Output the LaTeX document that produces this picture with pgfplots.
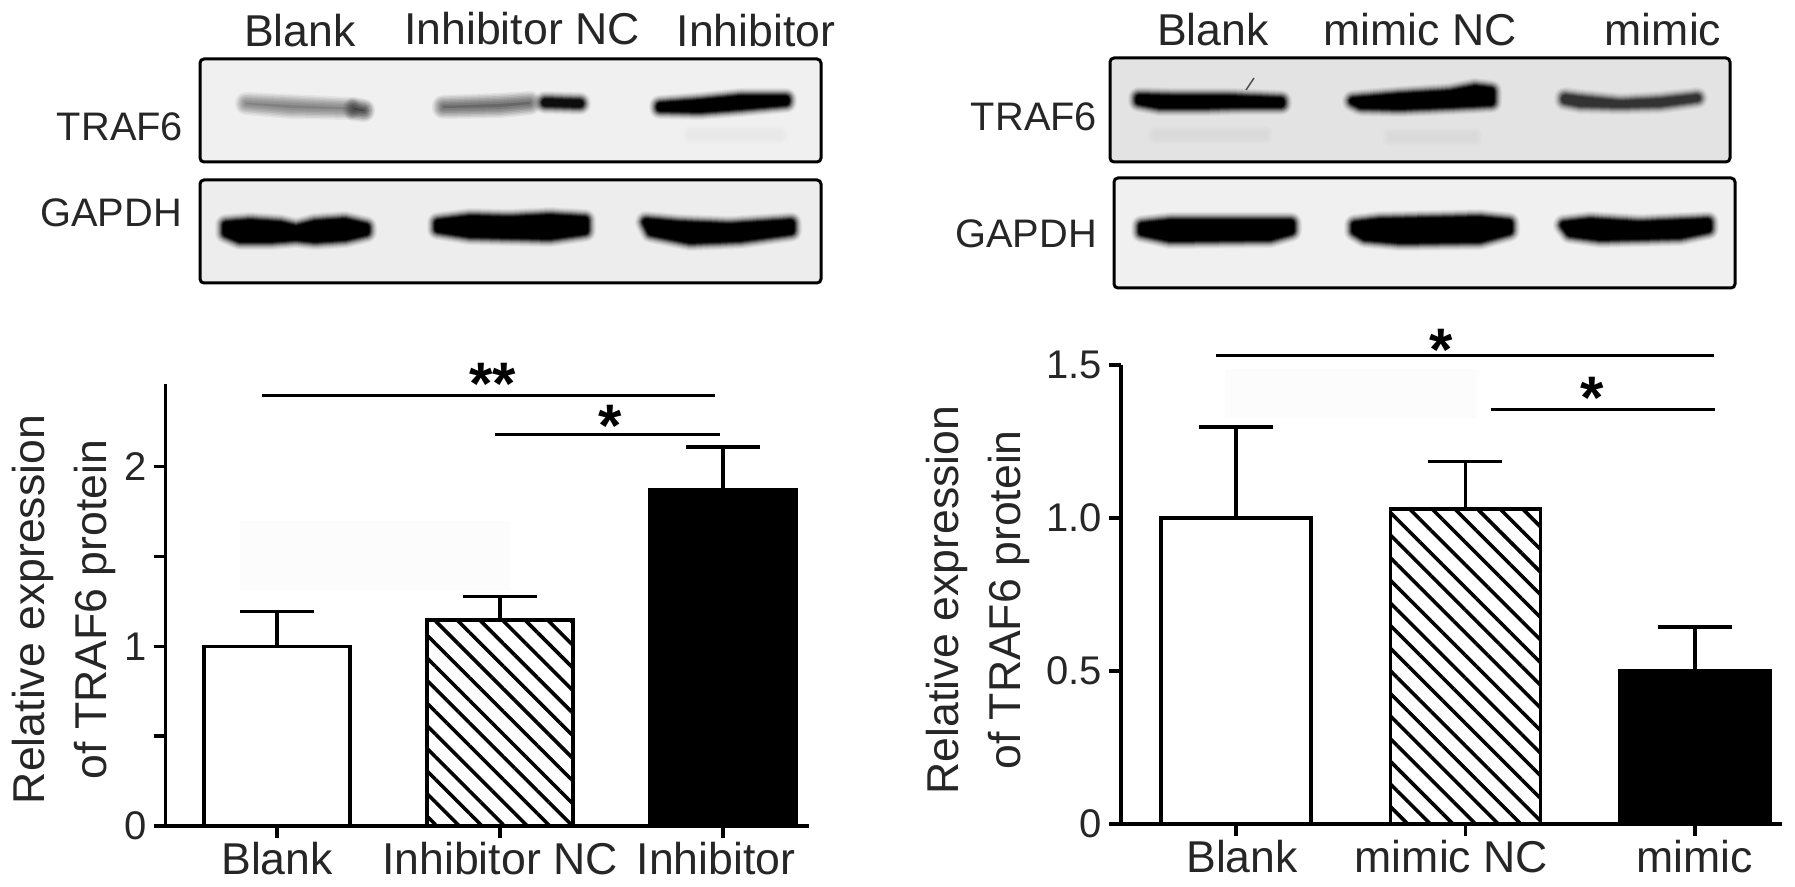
\documentclass[border=0pt]{standalone}
\usepackage{fontspec}
\setmainfont{Liberation Sans}
\usepackage{pgfplots}
\pgfplotsset{compat=1.18}
\usetikzlibrary{patterns.meta}

% picture is 1795x887 px at 0.5pt per px
\newcommand{\lab}{\fontsize{22.3pt}{31pt}\selectfont}
\newcommand{\blotlab}{\fontsize{19.9pt}{24pt}\selectfont}
\newcommand{\ticklab}{\fontsize{20pt}{24pt}\selectfont}
\newcommand{\stars}{\fontsize{30pt}{30pt}\selectfont\bfseries}
\colorlet{txt}{black!85}

% soft-edged blot band: a few see-through strokes, then the solid core
\newcommand{\bandlayer}[4]{%
  \addplot[draw=#1, fill=#1, line width=#2pt, draw opacity=#3, fill opacity=#3, line join=round] coordinates {#4} -- cycle;
}
\newcommand{\band}[2]{%
  \bandlayer{#1}{11}{.05}{#2}
  \bandlayer{#1}{10}{.07}{#2}
  \bandlayer{#1}{9}{.09}{#2}
  \bandlayer{#1}{8}{.13}{#2}
  \bandlayer{#1}{7}{.18}{#2}
  \bandlayer{#1}{6}{.26}{#2}
  \bandlayer{#1}{5}{.4}{#2}
  \bandlayer{#1}{4}{.6}{#2}
  \bandlayer{#1}{3}{1}{#2}
}
% faint band, no solid core
\newcommand{\softband}[2]{%
  \bandlayer{#1}{11}{.10}{#2}
  \bandlayer{#1}{9.5}{.14}{#2}
  \bandlayer{#1}{8}{.18}{#2}
  \bandlayer{#1}{6.5}{.22}{#2}
  \bandlayer{#1}{5}{.26}{#2}
  \bandlayer{#1}{3.5}{.30}{#2}
  \bandlayer{#1}{2}{.35}{#2}
}
\newcommand{\smear}[2]{%
  \bandlayer{#1}{7}{.25}{#2}
  \bandlayer{#1}{5}{.3}{#2}
  \bandlayer{#1}{3}{.35}{#2}
  \bandlayer{#1}{1}{.4}{#2}
}
\newcommand{\panel}[2]{%
  \addplot[draw=none, fill=#1] coordinates {#2} -- cycle;
}
\newcommand{\frameline}[1]{%
  \addplot[draw=black, line width=1.5pt, rounded corners=2pt] coordinates {#1} -- cycle;
}

\pgfplotsset{
  barchart/.style={
    scale only axis,
    anchor=south west,
    axis lines=left,
    axis line style={-, line width=1.8pt},
    tick style={black, line width=1.8pt},
    tick align=outside,
    major tick length=6pt,
    minor tick length=6pt,
    ymin=0,
    xtick={0,1,2},
    ybar, bar width=73pt, bar shift=0pt,
    x tick label style={font=\lab, text=txt, yshift=1.5pt},
    y tick label style={font=\ticklab, text=txt},
    /pgf/number format/assume math mode=true,
    ylabel={Relative expression\\of TRAF6 protein},
    ylabel style={align=center, font=\lab, text=txt, anchor=center},
    axis on top,
    clip=false,
  },
  errs/.style={
    error bars/.cd, y dir=plus, y explicit,
    error bar style={black, line width=1.8pt},
    error mark options={rotate=90, black, mark size=18.5pt, line width=1.8pt}},
  blankbar/.style={draw=black, fill=white, line width=1.8pt, errs},
  hatchbar/.style={draw=black, line width=1.8pt,
    pattern={Lines[angle=-45,distance=8pt,line width=1.8pt]}, pattern color=black, errs},
  solidbar/.style={draw=black, fill=black, line width=1.8pt, errs},
}

\begin{document}
\begin{tikzpicture}
\useasboundingbox (0,0) rectangle (897.5pt,443.5pt);

% ---- blots, brackets and panel text, in reference pixel coordinates ----
\begin{axis}[
    at={(0,0)}, anchor=south west, scale only axis,
    width=897.5pt, height=443.5pt,
    xmin=0, xmax=1795, ymin=0, ymax=887, y dir=reverse,
    hide axis, clip=false,
]
% panel backgrounds
\panel{black!6}{(200,59) (821,59) (821,162) (200,162)}
\panel{black!7}{(200,180) (821,180) (821,283) (200,283)}
\panel{black!11}{(1110,58) (1730,58) (1730,162) (1110,162)}
\panel{black!6}{(1114,178) (1735,178) (1735,288) (1114,288)}

% left TRAF6
\smear{black!9}{(690,133) (780,133) (780,137) (690,137)}
\softband{black!50}{(246,103) (290,105) (350,108) (350,109) (290,108) (246,104)}
\softband{black!75}{(354,108) (364,110) (364,111) (354,110)}
\softband{black!60}{(443,106) (500,104) (530,102) (530,104) (500,107) (443,108)}
\band{black!95}{(545,102) (580,103) (580,104) (545,103)}
\band{black}{(660,106) (700,103) (740,99) (786,99) (786,102) (740,106) (700,109) (660,108)}
% left GAPDH
\band{black}{(226,225) (250,223) (280,225) (296,229) (315,224) (345,222) (366,227) (366,232) (345,237) (315,239) (296,237) (270,239) (240,239) (226,233)}
\band{black}{(438,223) (470,219) (510,220) (550,218) (585,220) (585,231) (550,236) (510,235) (470,234) (438,229)}
\band{black}{(646,222) (680,225) (730,227) (791,223) (791,231) (740,238) (690,240) (651,232)}

% right TRAF6
\smear{black!15}{(1155,133) (1265,133) (1265,137) (1155,137)}
\smear{black!15}{(1390,135) (1475,135) (1475,139) (1390,139)}
\addplot[black!70, line width=.7pt] coordinates {(1254,78) (1246,90)};
\band{black}{(1139,98) (1180,99) (1230,99) (1281,101) (1281,104) (1240,104) (1200,105) (1160,105) (1139,101)}
\band{black}{(1353,101) (1400,97) (1450,94) (1475,89) (1491,91) (1491,102) (1450,104) (1400,106) (1361,105)}
\band{black!80}{(1565,98) (1580,100) (1620,104) (1660,102) (1697,98) (1697,98) (1660,103) (1620,104) (1580,103) (1565,100)}
% right GAPDH
\band{black}{(1142,226) (1170,223) (1291,223) (1291,231) (1270,237) (1170,238) (1142,232)}
\band{black}{(1355,225) (1380,222) (1480,220) (1509,223) (1509,231) (1480,239) (1400,240) (1365,237) (1355,231)}
\band{black}{(1564,225) (1590,222) (1640,225) (1708,222) (1708,229) (1680,235) (1600,237) (1570,233)}

% panel frames
\frameline{(200,59) (821,59) (821,162) (200,162)}
\frameline{(200,180) (821,180) (821,283) (200,283)}
\frameline{(1110,58) (1730,58) (1730,162) (1110,162)}
\frameline{(1114,178) (1735,178) (1735,288) (1114,288)}

% faint patches behind the plots
\panel{black!1}{(240,521) (510,521) (510,590) (240,590)}
\panel{black!1}{(1225,369) (1477,369) (1477,418) (1225,418)}

% significance brackets
\addplot[black, line width=1.5pt] coordinates {(262,396) (715,396)};
\addplot[black, line width=1.5pt] coordinates {(495,435) (720,435)};
\addplot[black, line width=1.5pt] coordinates {(1216,356) (1714,356)};
\addplot[black, line width=1.5pt] coordinates {(1491,410) (1715,410)};
\node[font=\stars] at (axis cs:493,384) {**};
\node[font=\stars] at (axis cs:610,426) {*};
\node[font=\stars] at (axis cs:1441,350) {*};
\node[font=\stars] at (axis cs:1592,398) {*};

% lane and blot labels
\node[font=\lab, text=txt] at (axis cs:300,31) {Blank};
\node[font=\lab, text=txt] at (axis cs:522,29) {Inhibitor NC};
\node[font=\lab, text=txt] at (axis cs:756,31) {Inhibitor};
\node[font=\blotlab, text=txt] at (axis cs:120,127) {TRAF6};
\node[font=\blotlab, text=txt] at (axis cs:111,213) {GAPDH};
\node[font=\lab, text=txt] at (axis cs:1213,30) {Blank};
\node[font=\lab, text=txt] at (axis cs:1420,30) {mimic NC};
\node[font=\lab, text=txt] at (axis cs:1663,30) {mimic};
\node[font=\blotlab, text=txt] at (axis cs:1034,117) {TRAF6};
\node[font=\blotlab, text=txt] at (axis cs:1026,234) {GAPDH};
\end{axis}

% ---- left bar chart ----
\begin{axis}[
    barchart,
    at={(82.8pt,30.5pt)},
    width=321.7pt, height=221pt,
    xmin=-0.5, xmax=2.386,
    ymax=2.46,
    ytick={0,1,2},
    minor ytick={0.5,1.5},
    xticklabels={Blank,Inhibitor NC,Inhibitor\kern7pt},
    every axis y label/.append style={at={(rel axis cs:-0.158,0.49)}},
]
\addplot[blankbar] coordinates {(0,1) +- (0,0.194)};
\addplot[hatchbar] coordinates {(1,1.148) +- (0,0.13)};
\addplot[solidbar] coordinates {(2,1.87) +- (0,0.24)};
\end{axis}

% ---- right bar chart ----
\begin{axis}[
    barchart,
    at={(560.5pt,31.5pt)},
    width=330.5pt, height=229.5pt,
    xmin=-0.5016, xmax=2.38,
    ymax=1.5,
    bar width=75pt,
    ytick={0,0.5,1,1.5},
    yticklabels={0,0.5,1.0,1.5},
    xticklabels={\kern6pt Blank,mimic NC\kern14pt,mimic},
    every axis y label/.append style={at={(rel axis cs:-0.217,0.488)}},
]
\addplot[blankbar] coordinates {(0,1) +- (0,0.298)};
\addplot[hatchbar] coordinates {(1,1.03) +- (0,0.154)};
\addplot[solidbar] coordinates {(2,0.5) +- (0,0.143)};
\end{axis}
\end{tikzpicture}
\end{document}
